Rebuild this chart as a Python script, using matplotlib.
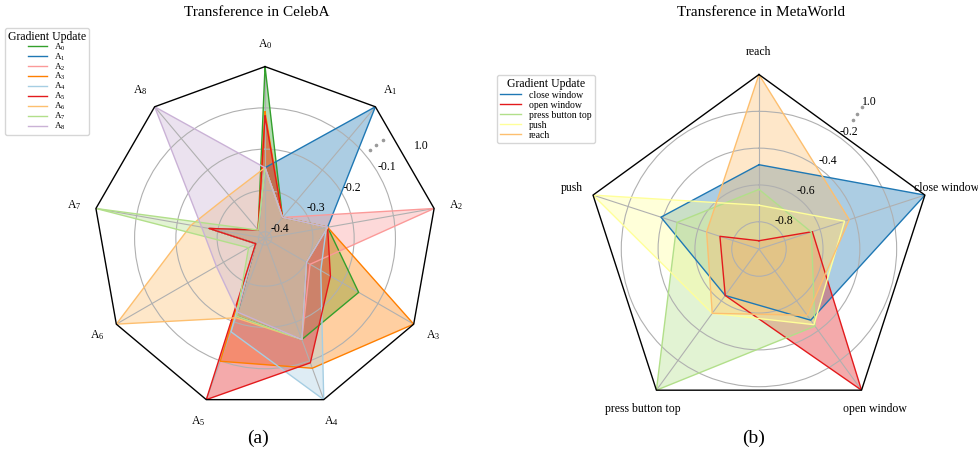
import numpy as np
import matplotlib
matplotlib.use("Agg")
import matplotlib.pyplot as plt

plt.rcParams["font.family"] = ["Liberation Serif", "DejaVu Serif"]
plt.rcParams["mathtext.fontset"] = "stix"

# ---------------------------------------------------------------------------
# CelebA: one list per gradient update, values on tasks A0..A8 (1.0 = self)
# ---------------------------------------------------------------------------
celeba_tasks = [r"$\mathregular{A_%d}$" % i for i in range(9)]
celeba_A0 = [1.0, -0.35, -0.262, -0.154, -0.155, -0.215, -0.39, -0.28, -0.39]
celeba_A1 = [-0.245, 1.0, -0.262, -0.30, -0.155, -0.215, -0.39, -0.28, -0.39]
celeba_A2 = [-0.245, -0.35, 1.0, -0.29, -0.155, -0.215, -0.39, -0.28, -0.39]
celeba_A3 = [-0.11, -0.35, -0.262, 1.0, -0.081, -0.099, -0.39, -0.28, -0.39]
celeba_A4 = [-0.245, -0.35, -0.265, -0.26, 1.0, -0.175, -0.39, -0.28, -0.39]
celeba_A5 = [-0.12, -0.35, -0.262, -0.233, -0.095, 1.0, -0.39, -0.278, -0.39]
celeba_A6 = [-0.245, -0.35, -0.262, -0.30, -0.155, -0.211, 1.0, -0.234, -0.28]
celeba_A7 = [-0.245, -0.35, -0.262, -0.30, -0.155, -0.215, -0.37, 1.0, -0.39]
celeba_A8 = [-0.245, -0.35, -0.262, -0.30, -0.155, -0.225, -0.28, -0.26, 1.0]
celeba_series = [celeba_A0, celeba_A1, celeba_A2, celeba_A3, celeba_A4,
                 celeba_A5, celeba_A6, celeba_A7, celeba_A8]
celeba_colors = ["#33a02c", "#1f78b4", "#fb9a99", "#ff7f00", "#a6cee3",
                 "#e31a1c", "#fdbf6f", "#b2df8a", "#cab2d6"]
celeba_rticks = [-0.4, -0.3, -0.2, -0.1]

# ---------------------------------------------------------------------------
# MetaWorld: tasks reach, close window, open window, press button top, push
# ---------------------------------------------------------------------------
mw_tasks = ["reach", "close window", "open window", "press button top", "push"]
mw_close_window = [-0.49, 1.0, -0.47, -0.636, -0.388]
mw_open_window = [-0.903, -0.643, 1.0, -0.636, -0.725]
mw_press_button_top = [-0.624, -0.649, -0.43, 1.0, -0.48]
mw_push = [-0.71, -0.459, -0.44, -0.516, 1.0]
mw_reach = [1.0, -0.432, -0.503, -0.516, -0.649]
mw_series = [mw_close_window, mw_open_window, mw_press_button_top, mw_push, mw_reach]
mw_names = ["close window", "open window", "press button top", "push", "reach"]
mw_colors = ["#1f78b4", "#e31a1c", "#b2df8a", "#ffff99", "#fdbf6f"]
mw_rticks = [-0.8, -0.6, -0.4, -0.2]


def radar(ax, tasks, series, names, colors, rmin, rticks, rlabel_angle, dots):
    """Radar chart with a broken radial axis: the value 1.0 sits on the rim."""
    n = len(tasks)
    theta = np.arange(n) * 2 * np.pi / n
    closed = np.append(theta, theta[0])

    ax.set_theta_offset(np.pi / 2)
    ax.set_theta_direction(-1)
    ax.set_ylim(rmin, 0.0)
    ax.spines["polar"].set_visible(False)
    ax.set_xticks(theta)
    ax.set_xticklabels([])
    ax.set_rgrids(rticks + [0.0], ["%.1f" % t for t in rticks] + ["1.0"],
                  angle=rlabel_angle, fontsize=8.5)
    ax.grid(color="#b0b0b0", lw=0.8)
    ax.yaxis.get_major_ticks()[-1].gridline.set_visible(False)

    for vals, name, c in zip(series, names, colors):
        r = np.where(np.asarray(vals) >= 1.0, 0.0, vals)
        r = np.append(r, r[0])
        ax.fill(closed, r, color=c, alpha=0.37, lw=0)
        ax.plot(closed, r, color=c, lw=1.0, label=name)

    # polygon frame
    ax.plot(closed, np.zeros_like(closed), color="black", lw=1.0, clip_on=False)

    # axis break marker between the last grid ring and 1.0
    ax.plot([np.deg2rad(dots[0])] * 3, dots[1], ls="none", marker="o", ms=1.6,
            color="#9a9a9a", clip_on=False)

    for t, lab in zip(theta, tasks):
        ax.text(0.5 + 0.565 * np.sin(t), 0.5 + 0.565 * np.cos(t), lab,
                transform=ax.transAxes, ha="center", va="center", fontsize=8.5)


fig = plt.figure(figsize=(9.79, 4.58), dpi=100)

ax1 = fig.add_axes([0.0953, 0.1048, 0.3508, 0.7498], projection="polar")
radar(ax1, celeba_tasks, celeba_series, celeba_tasks, celeba_colors,
      -0.416, celeba_rticks, 60, (50, [-0.085, -0.065, -0.044]))

ax2 = fig.add_axes([0.597, 0.0753, 0.3565, 0.762], projection="polar")
radar(ax2, mw_tasks, mw_series, mw_names, mw_colors,
      -0.948, mw_rticks, 36, (36, [-0.083, -0.04, 0.003]))

fig.text(257 / 979, 1 - 13 / 458, "Transference in CelebA", ha="center",
         va="center", fontsize=11)
fig.text(761 / 979, 1 - 13 / 458, "Transference in MetaWorld", ha="center",
         va="center", fontsize=11)
fig.text(258 / 979, 1 - 438 / 458, "(a)", ha="center", va="center", fontsize=14)
fig.text(754 / 979, 1 - 438 / 458, "(b)", ha="center", va="center", fontsize=14)

h1, l1 = ax1.get_legend_handles_labels()
fig.legend(h1, l1, title="Gradient Update", loc="upper left",
           bbox_to_anchor=(5 / 979, 1 - 28 / 458), borderaxespad=0,
           fontsize=6.5, title_fontsize=8.5, labelspacing=-0.14,
           handlelength=2.1, borderpad=0.3)
h2, l2 = ax2.get_legend_handles_labels()
fig.legend(h2, l2, title="Gradient Update", loc="upper left",
           bbox_to_anchor=(497 / 979, 1 - 75 / 458), borderaxespad=0,
           fontsize=7, title_fontsize=8.5, labelspacing=0.1,
           handlelength=2.2, borderpad=0.3)

fig.savefig("out.png", dpi=100)
